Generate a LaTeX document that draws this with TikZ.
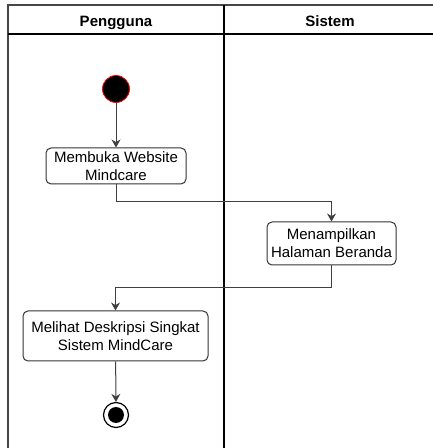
\documentclass[tikz,border=0pt]{standalone}
\usepackage{fontspec}
\setmainfont{Liberation Sans}
\usetikzlibrary{arrows.meta}

\tikzset{
  action/.style={draw=black!80, line width=1pt, rounded corners=5pt, align=center,
    inner sep=0pt, font=\fontsize{15}{18}\selectfont},
  flow/.style={-{Stealth[length=8pt,width=9pt]}, draw=black!75, line width=1pt},
  lanehead/.style={font=\bfseries\fontsize{15}{18}\selectfont, anchor=base},
}

\begin{document}
\begin{tikzpicture}[x=1pt,y=1pt]
    \useasboundingbox (0,0) rectangle (433,448);
    \clip (0,0) rectangle (433,448);

    % Swimlanes
    \draw[gray!55!black, line width=1.6pt] (8,-20) -- (8,443) -- (450,443);
    \draw[black, line width=1.2pt] (8,414) -- (450,414);
    \draw[black, line width=1.8pt] (224,443) -- (224,-20);
    \node[lanehead] (pengguna) at (116,421) {Pengguna};
    \node[lanehead] (sistem) at (330,421) {Sistem};

    % Start
    \node[circle, fill=black, draw=red, line width=0.8pt, minimum size=27pt, inner sep=0pt] (start) at (116,359) {};

    % Actions
    \node[action, minimum width=140pt, minimum height=36pt] (buka) at (116,282) {Membuka Website\\Mindcare};
    \node[action, minimum width=129pt, minimum height=43pt] (beranda) at (331.5,204.5) {Menampilkan\\Halaman Beranda};
    \node[action, minimum width=185pt, minimum height=50pt] (deskripsi) at (115.5,112) {Melihat Deskripsi Singkat\\Sistem MindCare};

    % End
    \node[circle, draw=black, line width=1.2pt, minimum size=25pt, inner sep=0pt] (selesai) at (116,33) {};
    \fill (selesai.center) circle (8pt);

    % Flow
    \draw[flow] (start) -- (buka);
    \draw[flow] (buka.south) -- ++(0,-17) -| (beranda.north);
    \draw[flow] (beranda.south) -- ++(0,-22) -| (deskripsi.north);
    \draw[flow] (deskripsi) -- (selesai);
\end{tikzpicture}
\end{document}
